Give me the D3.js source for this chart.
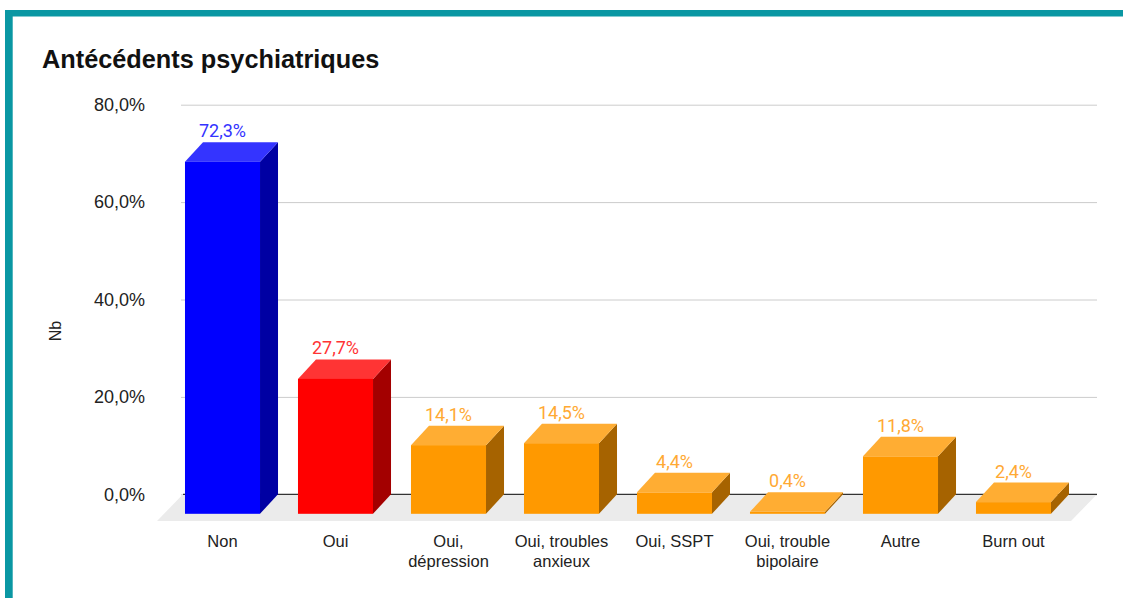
<!DOCTYPE html>
<html>
<head>
<meta charset="utf-8">
<script src="https://cdn.jsdelivr.net/npm/d3@7"></script>
<style>
  html, body { margin: 0; padding: 0; background: #ffffff; }
  svg { display: block; }
</style>
</head>
<body>
<svg id="chart" width="1123" height="598"></svg>
<script>
const categories = ["Non", "Oui", "Oui, dépression", "Oui, troubles anxieux", "Oui, SSPT", "Oui, trouble bipolaire", "Autre", "Burn out"];
const categoryLines = [["Non"], ["Oui"], ["Oui,", "dépression"], ["Oui, troubles", "anxieux"], ["Oui, SSPT"], ["Oui, trouble", "bipolaire"], ["Autre"], ["Burn out"]];
const values = [72.3, 27.7, 14.1, 14.5, 4.4, 0.4, 11.8, 2.4];
const valueLabels = ["72,3%", "27,7%", "14,1%", "14,5%", "4,4%", "0,4%", "11,8%", "2,4%"];
const groups = ["non", "oui", "detail", "detail", "detail", "detail", "detail", "detail"];
const yTicks = [0, 20, 40, 60, 80];
const title = "Antécédents psychiatriques";
const yTitle = "Nb";

const palette = {
  non:    { front: "#0000ff", top: "#3434ff", side: "#0000a3", label: "#3333ff" },
  oui:    { front: "#ff0000", top: "#ff3434", side: "#a30000", label: "#ff3333" },
  detail: { front: "#ff9900", top: "#ffad33", side: "#a66300", label: "#ffa933" }
};

const svg = d3.select("#chart");

// frame
svg.append("rect").attr("x", 5).attr("y", 10).attr("width", 1118).attr("height", 6.5).attr("fill", "#0a97a3");
svg.append("rect").attr("x", 5).attr("y", 10).attr("width", 7.7).attr("height", 588).attr("fill", "#0a97a3");

const x = d3.scaleBand().domain(categories).range([184, 1088]).paddingInner(0.336).paddingOuter(0.168);
const y = d3.scaleLinear().domain([0, 80]).range([494.3, 104.7]);
const DX = -18, DY = 19.5;
const gridX0 = 181, gridX1 = 1097;

// title
svg.append("text").attr("x", 42).attr("y", 68)
  .attr("font-family", "Liberation Sans, Arial, sans-serif")
  .attr("font-weight", "bold").attr("font-size", 25.3).attr("fill", "#111")
  .text(title);

// gridlines
const yAxis = d3.axisLeft(y).tickValues(yTicks)
  .tickFormat(d => d3.format(".1f")(d).replace(".", ",") + "%")
  .tickSize(-(gridX1 - gridX0)).tickPadding(36);
const gAxis = svg.append("g").attr("transform", `translate(${gridX0},0)`).call(yAxis);
gAxis.select(".domain").remove();
gAxis.selectAll(".tick line").attr("stroke", "#cccccc").attr("stroke-width", 1);
gAxis.selectAll(".tick text")
  .attr("font-family", "Liberation Sans, Arial, sans-serif")
  .attr("font-size", 18).attr("fill", "#222");

// floor
const floorDX = -26, floorDY = 26.7;
svg.append("polygon")
  .attr("points", [[183, y(0)], [gridX1, y(0)], [gridX1 + floorDX, y(0) + floorDY], [183 + floorDX, y(0) + floorDY]].map(p => p.join(",")).join(" "))
  .attr("fill", "#ebebeb");

// zero line
svg.append("line").attr("x1", 183).attr("x2", gridX1).attr("y1", y(0)).attr("y2", y(0))
  .attr("stroke", "#333").attr("stroke-width", 1.2);

// bars
const bw = x.bandwidth();
const bars = svg.append("g").selectAll("g").data(categories).join("g");
bars.each(function(c, i) {
  const g = d3.select(this);
  const col = palette[groups[i]];
  const xb = x(c), yv = y(values[i]), y0 = y(0);
  g.append("polygon")
    .attr("points", [[xb + bw + DX, yv + DY], [xb + bw, yv], [xb + bw, y0], [xb + bw + DX, y0 + DY]].map(p => p.join(",")).join(" "))
    .attr("fill", col.side);
  g.append("polygon")
    .attr("points", [[xb + DX, yv + DY], [xb + bw + DX, yv + DY], [xb + bw, yv], [xb, yv]].map(p => p.join(",")).join(" "))
    .attr("fill", col.top);
  g.append("rect").attr("x", xb + DX).attr("y", yv + DY).attr("width", bw).attr("height", y0 - yv)
    .attr("fill", col.front);
  g.append("text").attr("x", xb + DX + bw / 2).attr("y", yv - 5)
    .attr("text-anchor", "middle")
    .attr("font-family", "Roboto, sans-serif").attr("font-size", 18)
    .attr("fill", col.label).text(valueLabels[i]);
  const t = g.append("text").attr("text-anchor", "middle")
    .attr("font-family", "Liberation Sans, Arial, sans-serif").attr("font-size", 16.5).attr("fill", "#222");
  categoryLines[i].forEach((line, k) => {
    t.append("tspan").attr("x", xb + DX + bw / 2).attr("y", 547 + k * 20).text(line);
  });
});

// y title
svg.append("text").attr("transform", "translate(61,331) rotate(-90)")
  .attr("text-anchor", "middle")
  .attr("font-family", "Liberation Sans, Arial, sans-serif").attr("font-size", 16).attr("fill", "#222")
  .text(yTitle);
</script>
</body>
</html>
